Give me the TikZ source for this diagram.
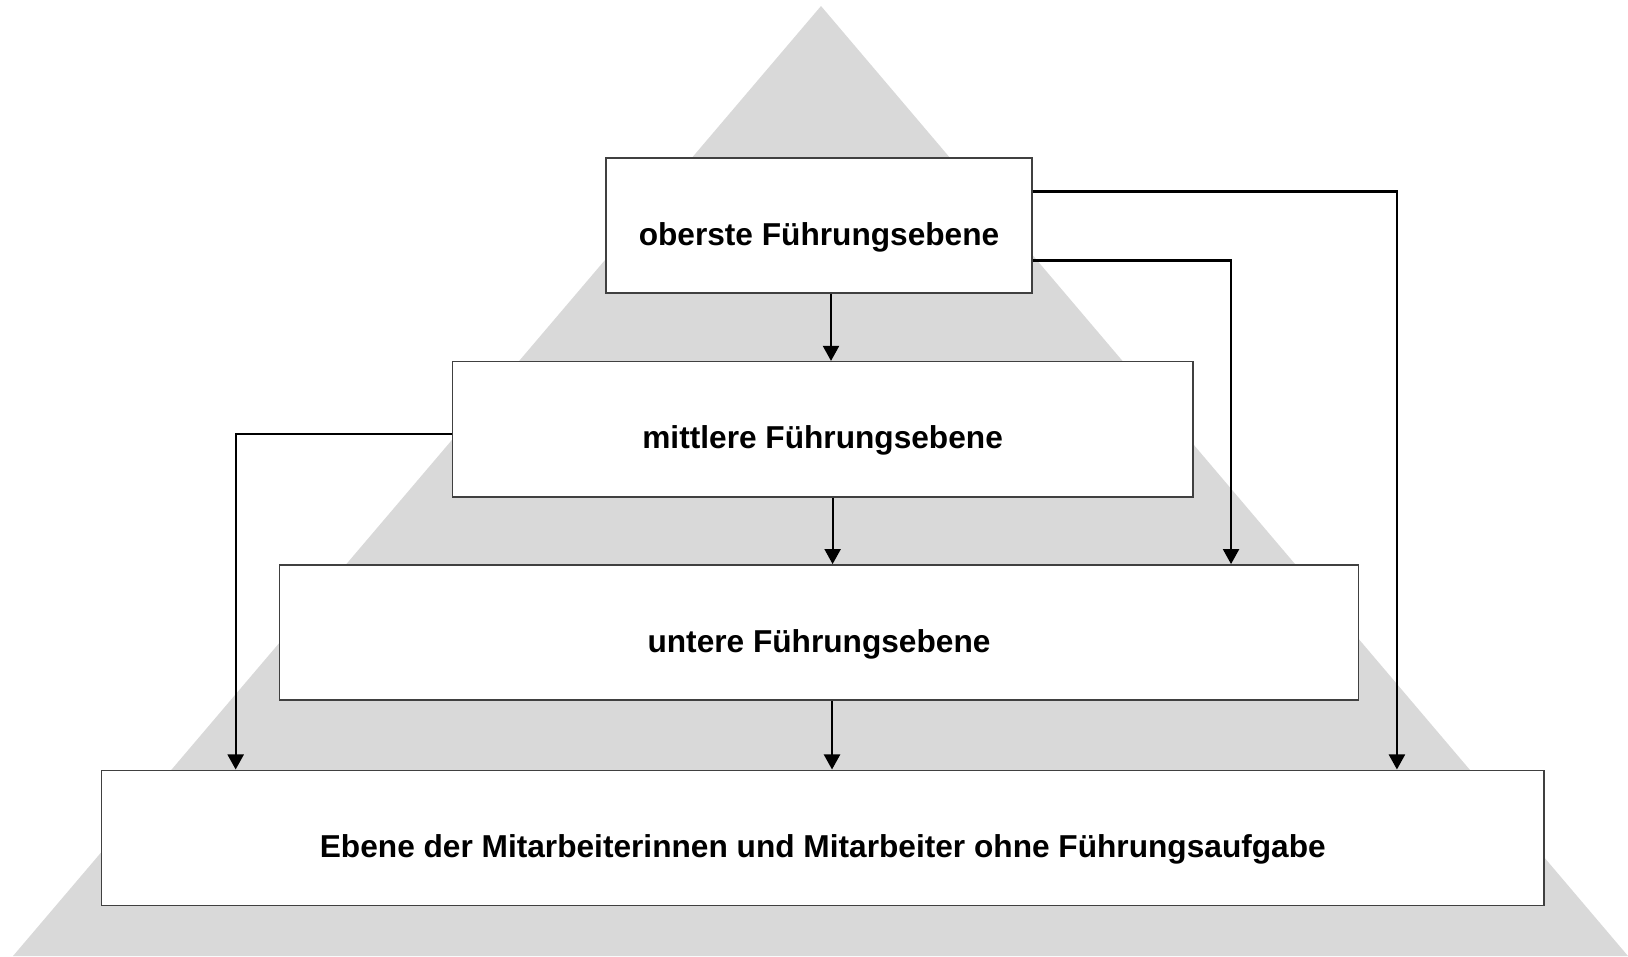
\documentclass[tikz,border=0pt]{standalone}
\usepackage{fontspec}
\setmainfont{Liberation Sans}
\usetikzlibrary{arrows.meta}
\definecolor{pyramid}{HTML}{D9D9D9}
\definecolor{frame}{HTML}{404040}
\tikzset{level/.style={draw=frame,line width=0.45pt,fill=white,minimum height=1.35cm,
  inner sep=0pt,text height=11.2pt,text depth=0pt,font=\fontsize{9}{11}\selectfont\bfseries},
  arrow/.style={-{Triangle[length=1.5mm,width=1.6mm]},line width=0.6pt,draw=black}}

\begin{document}
\begin{tikzpicture}[x=0.01cm,y=-0.01cm]
\useasboundingbox (0,0) rectangle (1628,956);
\fill[pyramid] (821,6) -- (13,956) -- (1628,956) -- cycle;
% the four levels
\node[level,minimum width=4.26cm] (top) at (819,225.5) {oberste Führungsebene};
\node[level,minimum width=7.40cm] (mid) at (822.6,429.2) {mittlere Führungsebene};
\node[level,minimum width=10.78cm] (low) at (819,632.4) {untere Führungsebene};
\node[level,minimum width=14.42cm] (base) at (822.8,837.8)
  {Ebene der Mitarbeiterinnen und Mitarbeiter ohne Führungsaufgabe};
% straight down
\draw[arrow] ([xshift=1.2mm]top.south) -- ([xshift=1.2mm]top.south |- mid.north);
\draw[arrow] ([xshift=1mm]mid.south) -- ([xshift=1mm]mid.south |- low.north);
\draw[arrow] ([xshift=1.3mm]low.south) -- ([xshift=1.3mm]low.south |- base.north);
% skipping levels
\draw[arrow] ([yshift=-0.5mm]mid.west) -| ([xshift=13.5mm]base.north west);
\draw[arrow] ([yshift=3.4mm]top.east) -| ([xshift=-14.8mm]base.north east);
\draw[arrow] ([yshift=-3.5mm]top.east) -| ([xshift=-12.8mm]low.north east);
\end{tikzpicture}
\end{document}
